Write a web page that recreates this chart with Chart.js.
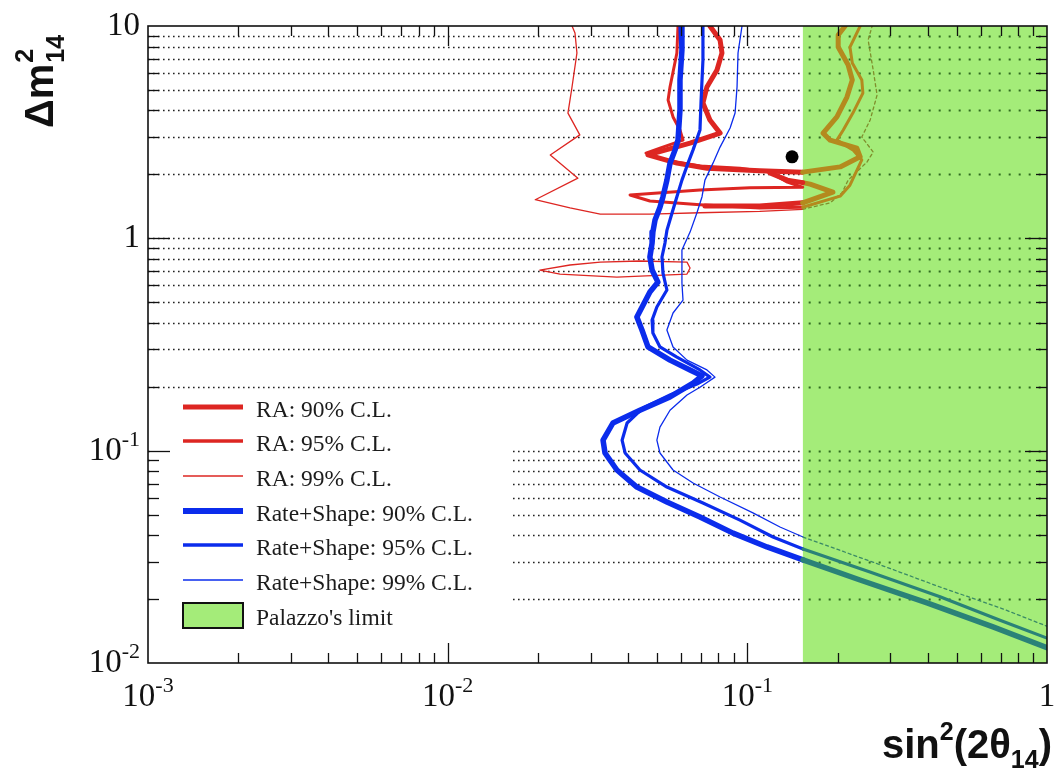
<!DOCTYPE html>
<html>
<head>
<meta charset="utf-8">
<script src="https://cdn.jsdelivr.net/npm/chart.js@4/dist/chart.umd.min.js"></script>
<style>
  html, body { margin: 0; padding: 0; background: #ffffff; }
  #wrap { width: 1060px; height: 770px; position: relative; }
</style>
</head>
<body>
<div id="wrap"><canvas id="c" width="1060" height="770"></canvas></div>
<script>
// Axis ranges (both logarithmic)
const xRange = [0.001, 1];
const yRange = [0.01, 10];
const xDecades = [0.001, 0.01, 0.1, 1];
const yDecades = [0.01, 0.1, 1, 10];

// Palazzo's limit: excluded band for sin^2(2θ14) above this value
const palazzoLimit = 0.153;

// Best-fit point of the rate-only analysis
const bestFit = [[0.141, 2.42]];

// Rate-only (RA) contours, [sin^2(2θ14), Δm^2_14]
const ra90 = [[0.0750,10],[0.0811,8.59],[0.0823,7.46],[0.0792,6.21],[0.0733,5.16],[0.0711,4.34],[0.0750,3.61],[0.0811,3.13],[0.0644,2.81],[0.0466,2.47],[0.0582,2.26],[0.0733,2.14],[0.110,2.08],[0.153,2.05],[0.204,2.17],[0.238,2.42],[0.232,2.66],[0.189,2.90],[0.179,3.13],[0.199,3.73],[0.215,4.63],[0.224,5.57],[0.217,6.55],[0.201,7.96],[0.201,9.07],[0.212,10]];
const ra90Lower = [[0.0722,1.42],[0.110,1.42],[0.153,1.47],[0.193,1.65],[0.162,1.80],[0.153,1.83],[0.136,1.88],[0.119,2.03]];
const ra95 = [[0.0587,10],[0.0582,7.46],[0.0552,5.16],[0.0544,4.48],[0.0565,3.73],[0.0596,3.24],[0.0610,2.90],[0.0511,2.66],[0.0459,2.52],[0.0531,2.34],[0.0695,2.19],[0.0945,2.14],[0.119,2.05],[0.136,1.84],[0.153,1.74],[0.102,1.73],[0.0695,1.69],[0.0406,1.60],[0.0473,1.50],[0.0695,1.44],[0.110,1.39],[0.153,1.40],[0.204,1.58],[0.220,1.78],[0.241,2.34],[0.225,2.61],[0.199,2.90],[0.209,3.24],[0.225,3.89],[0.243,4.83],[0.241,5.57],[0.224,6.70],[0.220,7.96],[0.238,10]];
const ra99 = [[0.0260,10],[0.0266,9.27],[0.0270,7.46],[0.0260,5.16],[0.0252,3.89],[0.0276,3.07],[0.0220,2.47],[0.0272,1.92],[0.0196,1.52],[0.0256,1.39],[0.0323,1.30],[0.0473,1.30],[0.0695,1.32],[0.110,1.34],[0.153,1.37],[0.189,1.47],[0.207,1.64],[0.217,1.88],[0.251,2.29],[0.263,2.55],[0.241,3.00],[0.257,3.61],[0.271,4.73],[0.263,6.21],[0.253,8.59],[0.261,10]];
const ra99Island = [[0.0629,0.773],[0.0438,0.782],[0.0323,0.773],[0.0256,0.749],[0.0203,0.709],[0.0237,0.679],[0.0367,0.657],[0.0629,0.679],[0.0644,0.725],[0.0629,0.773]];

// Rate+Shape exclusion contours
const rs90 = [[0.0601,10],[0.0605,7.71],[0.0596,5.57],[0.0596,4.02],[0.0587,2.90],[0.0574,2.61],[0.0552,2.26],[0.0539,1.88],[0.0523,1.57],[0.0511,1.40],[0.0492,1.22],[0.0484,1.07],[0.0481,0.950],[0.0473,0.817],[0.0481,0.709],[0.0503,0.622],[0.0473,0.559],[0.0449,0.485],[0.0428,0.426],[0.0445,0.370],[0.0466,0.308],[0.0552,0.267],[0.0644,0.240],[0.0706,0.225],[0.0659,0.208],[0.0552,0.179],[0.0438,0.155],[0.0356,0.135],[0.0330,0.112],[0.0335,0.0975],[0.0367,0.0811],[0.0428,0.0674],[0.0539,0.0573],[0.0695,0.0487],[0.0896,0.0409],[0.1163,0.0352],[0.1534,0.0306],[0.2377,0.0246],[0.3977,0.0192],[0.6604,0.0148],[1.0,0.0118]];
const rs95 = [[0.0711,10],[0.0711,6.92],[0.0701,4.48],[0.0695,3.24],[0.0659,2.61],[0.0634,2.26],[0.0605,1.88],[0.0582,1.57],[0.0561,1.32],[0.0539,1.09],[0.0531,0.950],[0.0519,0.817],[0.0523,0.686],[0.0539,0.571],[0.0499,0.475],[0.0481,0.412],[0.0484,0.358],[0.0511,0.308],[0.0582,0.276],[0.0695,0.240],[0.0750,0.222],[0.0679,0.206],[0.0552,0.183],[0.0449,0.159],[0.0397,0.135],[0.0382,0.112],[0.0391,0.0975],[0.0438,0.0811],[0.0539,0.0674],[0.0711,0.0567],[0.0945,0.0471],[0.1218,0.0392],[0.1534,0.0344],[0.2566,0.0268],[0.4395,0.0205],[0.6969,0.0159],[1.0,0.0131]];
const rs99 = [[0.0960,10],[0.0931,7.46],[0.0924,5.16],[0.0910,3.89],[0.0876,3.31],[0.0811,2.69],[0.0768,2.26],[0.0722,1.88],[0.0706,1.57],[0.0679,1.32],[0.0644,1.07],[0.0605,0.881],[0.0605,0.749],[0.0605,0.616],[0.0610,0.512],[0.0565,0.445],[0.0539,0.370],[0.0565,0.308],[0.0629,0.267],[0.0733,0.240],[0.0780,0.222],[0.0695,0.199],[0.0629,0.183],[0.0552,0.155],[0.0511,0.129],[0.0499,0.112],[0.0511,0.0975],[0.0565,0.0811],[0.0659,0.0704],[0.0811,0.0605],[0.1044,0.0509],[0.1285,0.0437],[0.1534,0.0392],[0.2566,0.0302],[0.4395,0.0228],[0.6969,0.0182],[1.0,0.0149]];

// Legend entries
const legendLabels = ['RA: 90% C.L.', 'RA: 95% C.L.', 'RA: 99% C.L.', 'Rate+Shape: 90% C.L.', 'Rate+Shape: 95% C.L.', 'Rate+Shape: 99% C.L.', "Palazzo's limit"];

const RED = '#dd2622';
const BLUE = '#0b2cec';
const OLIVE = '#b48a1e';
const OLIVE_THIN = '#7f8f2c';
const TEAL = '#2a8278';
const TEAL_THIN = '#3a8a66';
const GREEN = '#a4ec79';

const pts = arr => arr.map(([x, y]) => ({ x, y }));
const inZone = c => c.p0.parsed.x >= palazzoLimit - 1e-6 && c.p1.parsed.x >= palazzoLimit - 1e-6;

function curve(label, data, color, width, tint, dashed, order) {
  return {
    label, data: pts(data), showLine: true, pointRadius: 0, borderColor: color,
    borderWidth: width, fill: false, tension: 0, order,
    borderJoinStyle: 'round', borderCapStyle: 'round',
    segment: {
      borderColor: c => inZone(c) ? tint : undefined,
      borderDash: c => (inZone(c) && dashed) ? [3, 3] : undefined
    }
  };
}

const datasets = [
  { label: "Palazzo's limit", data: pts([[palazzoLimit, yRange[1]], [xRange[1], yRange[1]]]),
    showLine: true, pointRadius: 0, borderWidth: 0, borderColor: 'rgba(0,0,0,0)',
    backgroundColor: GREEN, fill: 'start', order: 10 },
  curve(legendLabels[0], ra90, RED, 5, OLIVE, false, 3),
  curve(legendLabels[0] + ' (lower)', ra90Lower, RED, 5, OLIVE, false, 3),
  curve(legendLabels[1], ra95, RED, 3, OLIVE, false, 3),
  curve(legendLabels[2], ra99, RED, 1.3, OLIVE_THIN, true, 3),
  curve(legendLabels[2] + ' (island)', ra99Island, RED, 1.3, OLIVE_THIN, true, 3),
  curve(legendLabels[3], rs90, BLUE, 5.5, TEAL, false, 2),
  curve(legendLabels[4], rs95, BLUE, 3.2, TEAL, false, 2),
  curve(legendLabels[5], rs99, BLUE, 1.3, TEAL_THIN, true, 2),
  { label: 'Best fit', data: pts(bestFit), showLine: false, pointRadius: 6.5,
    backgroundColor: '#000000', borderColor: '#000000', borderWidth: 0, order: 1 }
];

// Values 2..9 x 10^k inside each decade
function minorValues(decades) {
  const out = [];
  for (let i = 0; i < decades.length - 1; i++) {
    for (let m = 2; m <= 9; m++) out.push(+(m * decades[i]).toPrecision(3));
  }
  return out;
}
const xMinor = minorValues(xDecades);
const yMinor = minorValues(yDecades);
const yGridValues = yMinor.concat([0.1, 1]);

function drawPow(ctx, v, anchorX, baseY, align) {
  const e = Math.round(Math.log10(v));
  const base = e === 0 ? '1' : '10';
  const sup = (e === 0 || e === 1) ? '' : String(e);
  ctx.font = '33px "Liberation Serif"';
  const wb = ctx.measureText(base).width;
  ctx.font = '22px "Liberation Serif"';
  const ws = sup ? ctx.measureText(sup).width : 0;
  const total = wb + ws;
  const x0 = align === 'center' ? anchorX - total / 2 : anchorX - total;
  ctx.textAlign = 'left';
  ctx.textBaseline = 'alphabetic';
  ctx.font = '33px "Liberation Serif"';
  ctx.fillText(base, x0, baseY);
  if (sup) {
    ctx.font = '22px "Liberation Serif"';
    ctx.fillText(sup, x0 + wb, baseY - 14);
  }
}

const decor = {
  id: 'decor',
  beforeDatasetsDraw(chart) {
    const { ctx, chartArea: a, scales: { y } } = chart;
    ctx.save();
    ctx.strokeStyle = '#222222';
    ctx.lineWidth = 1.3;
    ctx.setLineDash([1.6, 3.4]);
    for (const v of yGridValues) {
      const py = Math.round(y.getPixelForValue(v)) + 0.5;
      ctx.beginPath(); ctx.moveTo(a.left, py); ctx.lineTo(a.right, py); ctx.stroke();
    }
    ctx.restore();
  },
  afterDatasetDraw(chart, args) {
    if (chart.data.datasets[args.index].label !== "Palazzo's limit") return;
    const { ctx, chartArea: a, scales: { x, y } } = chart;
    const x0 = x.getPixelForValue(palazzoLimit);
    ctx.save();
    ctx.strokeStyle = '#2f6a1f';
    ctx.lineWidth = 1.8;
    ctx.setLineDash([2, 8]);
    for (const v of yGridValues) {
      const py = Math.round(y.getPixelForValue(v)) + 0.5;
      ctx.beginPath(); ctx.moveTo(x0 + 6, py); ctx.lineTo(a.right, py); ctx.stroke();
    }
    ctx.restore();
  },
  afterDatasetsDraw(chart) {
    const { ctx, chartArea: a, scales: { x, y } } = chart;
    ctx.save();

    // Legend box
    ctx.fillStyle = '#ffffff';
    ctx.fillRect(152, 393, 361, 262);
    const rows = [
      { y: 407, color: RED, w: 5 },
      { y: 441, color: RED, w: 3.5 },
      { y: 476, color: RED, w: 1.5 },
      { y: 511, color: BLUE, w: 6 },
      { y: 545, color: BLUE, w: 3.5 },
      { y: 580, color: BLUE, w: 1.5 }
    ];
    ctx.font = '23.5px "Liberation Serif"';
    ctx.textAlign = 'left';
    ctx.textBaseline = 'alphabetic';
    rows.forEach((r, i) => {
      ctx.strokeStyle = r.color;
      ctx.lineWidth = r.w;
      ctx.beginPath(); ctx.moveTo(183, r.y); ctx.lineTo(243, r.y); ctx.stroke();
      ctx.fillStyle = '#1c1c1c';
      ctx.fillText(legendLabels[i], 256, r.y + 10);
    });
    ctx.fillStyle = GREEN;
    ctx.fillRect(183, 603, 60, 25);
    ctx.strokeStyle = '#111111';
    ctx.lineWidth = 2;
    ctx.strokeRect(183, 603, 60, 25);
    ctx.fillStyle = '#1c1c1c';
    ctx.fillText(legendLabels[6], 256, 625);

    // Tick marks on all four sides
    ctx.strokeStyle = '#111111';
    ctx.lineWidth = 1.3;
    const xTicks = xMinor.map(v => [v, 10]).concat([[0.01, 20], [0.1, 20]]);
    for (const [v, len] of xTicks) {
      const px = Math.round(x.getPixelForValue(v)) + 0.5;
      ctx.beginPath(); ctx.moveTo(px, a.bottom); ctx.lineTo(px, a.bottom - len); ctx.stroke();
      ctx.beginPath(); ctx.moveTo(px, a.top); ctx.lineTo(px, a.top + len); ctx.stroke();
    }
    const yTicks = yMinor.map(v => [v, 11]).concat([[0.1, 22], [1, 22]]);
    for (const [v, len] of yTicks) {
      const py = Math.round(y.getPixelForValue(v)) + 0.5;
      ctx.beginPath(); ctx.moveTo(a.left, py); ctx.lineTo(a.left + len, py); ctx.stroke();
      ctx.beginPath(); ctx.moveTo(a.right, py); ctx.lineTo(a.right - len, py); ctx.stroke();
    }

    // Frame
    ctx.lineWidth = 1.6;
    ctx.strokeRect(a.left, a.top, a.right - a.left, a.bottom - a.top);

    // Tick labels
    ctx.fillStyle = '#111111';
    for (const v of xDecades) drawPow(ctx, v, x.getPixelForValue(v), 706, 'center');
    for (const v of yDecades) drawPow(ctx, v, 140, y.getPixelForValue(v) + 9, 'right');

    // X axis title: sin^2(2θ14)
    const big = 'bold 40px "Liberation Sans"';
    const small = 'bold 25px "Liberation Sans"';
    const parts = [
      { t: 'sin', f: big, dy: 0 },
      { t: '2', f: small, dy: -18 },
      { t: '(2\u03B8', f: big, dy: 0 },
      { t: '14', f: small, dy: 10 },
      { t: ')', f: big, dy: 0 }
    ];
    let total = 0;
    for (const p of parts) { ctx.font = p.f; p.w = ctx.measureText(p.t).width; total += p.w; }
    let cx = 1052 - total;
    for (const p of parts) { ctx.font = p.f; ctx.fillText(p.t, cx, 758 + p.dy); cx += p.w; }

    // Y axis title: Δm^2_14 (rotated)
    ctx.translate(53, 128);
    ctx.rotate(-Math.PI / 2);
    ctx.font = big;
    const dm = '\u0394m';
    const wdm = ctx.measureText(dm).width;
    ctx.fillText(dm, 0, 0);
    ctx.font = small;
    ctx.fillText('2', wdm + 1, -20);
    ctx.fillText('14', wdm + 1, 11);

    ctx.restore();
  }
};

new Chart(document.getElementById('c'), {
  type: 'scatter',
  data: { datasets },
  options: {
    responsive: false,
    animation: false,
    devicePixelRatio: 1,
    layout: { padding: { left: 148, top: 26, right: 13, bottom: 107 } },
    plugins: { legend: { display: false }, tooltip: { enabled: false } },
    scales: {
      x: {
        type: 'logarithmic', min: xRange[0], max: xRange[1],
        ticks: { display: false }, grid: { display: false }, border: { display: false },
        afterFit: s => { s.height = 0; }
      },
      y: {
        type: 'logarithmic', min: yRange[0], max: yRange[1],
        ticks: { display: false }, grid: { display: false }, border: { display: false },
        afterFit: s => { s.width = 0; }
      }
    }
  },
  plugins: [decor]
});
</script>
</body>
</html>
